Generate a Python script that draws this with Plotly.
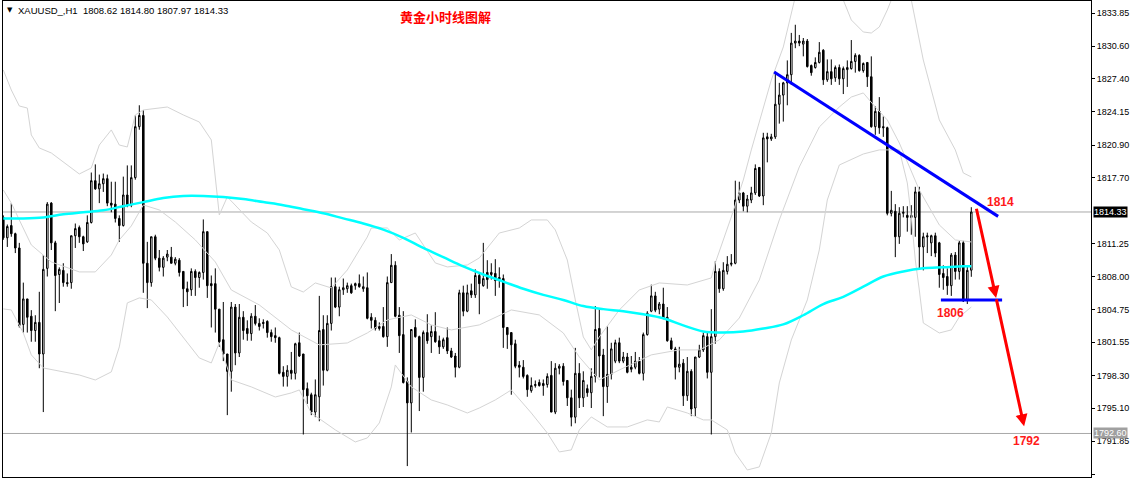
import plotly.graph_objects as go

# ---------------- data (prices) ----------------
opens = [1813.8, 1811.8, 1813.0, 1812.2, 1810.8, 1803.3, 1805.8, 1804.1, 1802.7, 1803.5,
         1800.4, 1808.8, 1815.2, 1811.3, 1808.2, 1808.6, 1807.4, 1807.4, 1812.0, 1812.8,
         1811.9, 1811.4, 1813.3, 1817.4, 1816.6, 1817.1, 1817.6, 1815.2, 1815.1, 1813.7,
         1813.0, 1816.0, 1815.0, 1817.7, 1822.7, 1823.8, 1809.3, 1807.4, 1811.9, 1809.8,
         1808.9, 1809.9, 1809.9, 1809.3, 1809.6, 1808.5, 1806.8, 1806.7, 1808.5, 1807.9,
         1808.4, 1812.4, 1807.3, 1807.3, 1804.8, 1801.8, 1800.4, 1798.7, 1805.0, 1800.5,
         1804.0, 1802.9, 1802.4, 1804.1, 1803.4, 1803.5, 1803.6, 1802.5, 1802.2, 1802.0,
         1798.6, 1798.2, 1798.8, 1798.5, 1801.5, 1800.4, 1797.0, 1796.4, 1794.7, 1796.2,
         1802.8, 1798.8, 1803.4, 1807.0, 1805.0, 1806.7, 1806.8, 1807.1, 1807.1, 1807.3,
         1806.8, 1806.9, 1804.0, 1803.7, 1802.9, 1803.1, 1802.1, 1807.4, 1809.1, 1804.2,
         1802.3, 1797.7, 1795.6, 1803.0, 1802.1, 1798.1, 1802.5, 1802.1, 1802.6, 1801.7,
         1801.1, 1802.0, 1800.7, 1800.2, 1799.1, 1806.4, 1804.6, 1806.6, 1806.2, 1808.1,
         1807.1, 1808.4, 1808.2, 1808.3, 1807.9, 1807.8, 1803.0, 1802.5, 1801.4, 1799.3,
         1799.1, 1798.3, 1796.8, 1797.3, 1797.6, 1797.5, 1797.4, 1798.3, 1794.7, 1799.0,
         1799.2, 1797.8, 1796.1, 1794.2, 1798.5, 1796.1, 1797.0, 1796.6, 1798.2, 1802.9,
         1800.3, 1797.2, 1798.4, 1799.7, 1801.5, 1799.7, 1800.1, 1799.1, 1799.1, 1799.7,
         1798.5, 1802.3, 1804.6, 1806.1, 1804.8, 1805.3, 1804.0, 1801.7, 1800.9, 1799.1,
         1799.5, 1796.3, 1798.7, 1795.1, 1800.1, 1800.8, 1802.1, 1798.6, 1802.1, 1808.5,
         1806.8, 1808.5, 1809.2, 1809.3, 1815.5, 1816.2, 1814.9, 1815.5, 1816.2, 1818.7,
         1815.9, 1821.7, 1821.5, 1821.7, 1824.9, 1825.8, 1827.0, 1827.8, 1830.9, 1831.1,
         1830.8, 1831.1, 1828.7, 1828.5, 1829.0, 1830.2, 1827.3, 1828.1, 1827.5, 1828.5,
         1827.4, 1828.3, 1828.4, 1829.1, 1829.7, 1828.2, 1829.0, 1827.6, 1822.7, 1824.2,
         1822.7, 1822.6, 1814.2, 1814.4, 1811.9, 1814.2, 1814.0, 1814.0, 1813.8, 1816.3,
         1810.9, 1812.0, 1811.3, 1812.0, 1811.3, 1808.3, 1808.0, 1807.1, 1810.1, 1808.5,
         1811.3, 1805.7, 1808.62]

highs = [1814.0, 1813.1, 1815.2, 1812.3, 1811.3, 1807.4, 1805.8, 1804.7, 1804.2, 1806.5,
         1810.1, 1815.3, 1815.3, 1811.5, 1808.9, 1809.3, 1808.3, 1812.0, 1813.2, 1813.0,
         1812.0, 1814.0, 1818.2, 1819.0, 1818.0, 1818.1, 1818.0, 1817.3, 1817.3, 1814.0,
         1817.8, 1818.9, 1818.9, 1823.8, 1824.8, 1824.3, 1811.4, 1811.9, 1812.1, 1810.6,
         1810.0, 1810.6, 1810.9, 1809.9, 1809.8, 1808.5, 1807.5, 1808.8, 1808.7, 1808.5,
         1813.6, 1812.4, 1808.1, 1808.8, 1804.8, 1805.5, 1800.4, 1805.5, 1805.3, 1805.3,
         1804.6, 1803.7, 1804.4, 1805.2, 1803.9, 1803.8, 1803.7, 1802.8, 1803.0, 1802.1,
         1799.2, 1799.3, 1800.6, 1801.5, 1802.5, 1800.4, 1797.6, 1796.6, 1797.9, 1806.1,
         1804.2, 1804.2, 1807.9, 1807.9, 1807.0, 1807.8, 1807.4, 1807.3, 1807.4, 1808.2,
         1808.0, 1808.4, 1804.4, 1804.0, 1803.5, 1805.0, 1808.0, 1810.2, 1809.5, 1805.0,
         1804.6, 1798.1, 1802.8, 1803.8, 1802.2, 1802.7, 1804.3, 1803.2, 1804.5, 1802.2,
         1802.0, 1803.0, 1801.0, 1800.5, 1806.7, 1807.1, 1807.2, 1807.3, 1808.7, 1808.3,
         1811.3, 1809.6, 1809.3, 1809.7, 1808.9, 1808.2, 1803.0, 1802.5, 1801.8, 1799.7,
         1799.8, 1798.4, 1798.1, 1797.8, 1797.9, 1797.9, 1798.5, 1799.7, 1799.5, 1799.4,
         1799.5, 1797.8, 1796.9, 1801.0, 1799.5, 1798.7, 1797.4, 1799.0, 1805.1, 1804.8,
         1800.9, 1803.1, 1801.5, 1801.8, 1802.0, 1800.6, 1800.5, 1800.2, 1800.6, 1800.1,
         1802.5, 1804.6, 1807.2, 1806.5, 1805.5, 1806.9, 1805.0, 1802.0, 1801.1, 1801.1,
         1799.9, 1800.1, 1798.9, 1800.1, 1801.3, 1802.5, 1802.5, 1804.8, 1809.5, 1808.8,
         1809.4, 1810.0, 1810.2, 1817.4, 1817.3, 1816.3, 1816.0, 1816.8, 1819.0, 1818.7,
         1822.1, 1822.1, 1822.0, 1828.1, 1827.0, 1827.1, 1829.2, 1831.9, 1832.7, 1831.7,
         1831.4, 1831.3, 1828.8, 1829.5, 1831.0, 1830.3, 1829.3, 1829.3, 1828.7, 1828.8,
         1828.6, 1829.2, 1831.2, 1829.9, 1829.8, 1829.0, 1829.0, 1829.6, 1824.7, 1825.6,
         1823.7, 1822.7, 1816.4, 1815.1, 1814.8, 1814.9, 1814.9, 1815.0, 1816.8, 1816.8,
         1812.3, 1812.3, 1812.1, 1812.3, 1811.4, 1809.1, 1808.8, 1810.3, 1810.4, 1811.5,
         1811.5, 1809.0, 1814.80]

lows = [1811.6, 1810.9, 1811.9, 1810.3, 1803.0, 1802.5, 1802.5, 1801.6, 1801.6, 1799.0,
        1794.7, 1808.0, 1810.6, 1804.6, 1805.4, 1807.0, 1807.0, 1806.8, 1810.8, 1811.3,
        1810.5, 1811.3, 1813.2, 1816.5, 1815.2, 1816.3, 1814.9, 1814.3, 1813.3, 1811.4,
        1812.9, 1814.8, 1814.8, 1817.5, 1822.4, 1806.4, 1804.9, 1807.0, 1809.6, 1808.5,
        1808.0, 1809.5, 1809.3, 1809.1, 1808.0, 1805.0, 1805.1, 1806.1, 1806.1, 1806.9,
        1807.7, 1805.9, 1803.0, 1802.5, 1801.1, 1799.7, 1794.4, 1796.7, 1799.3, 1800.1,
        1801.8, 1801.7, 1801.7, 1803.2, 1802.7, 1802.9, 1802.0, 1801.6, 1801.5, 1798.4,
        1797.2, 1797.2, 1797.9, 1797.9, 1800.1, 1792.5, 1795.5, 1794.4, 1794.2, 1793.8,
        1797.3, 1798.7, 1802.7, 1804.9, 1804.1, 1806.2, 1806.4, 1806.3, 1806.7, 1806.9,
        1806.5, 1803.8, 1802.9, 1802.7, 1802.7, 1802.0, 1801.1, 1807.4, 1804.0, 1800.5,
        1797.5, 1789.4, 1792.7, 1802.0, 1794.8, 1796.7, 1801.4, 1800.5, 1801.5, 1800.4,
        1800.9, 1800.4, 1800.0, 1798.1, 1799.0, 1804.1, 1804.5, 1805.9, 1805.9, 1804.3,
        1807.0, 1806.8, 1807.7, 1806.1, 1806.9, 1801.0, 1800.9, 1796.4, 1799.0, 1798.1,
        1798.0, 1796.2, 1796.6, 1797.1, 1797.2, 1796.3, 1797.1, 1794.7, 1794.5, 1798.4,
        1797.3, 1795.3, 1793.3, 1793.6, 1795.1, 1795.2, 1796.2, 1795.1, 1797.6, 1798.1,
        1794.3, 1795.6, 1797.9, 1799.5, 1799.5, 1799.5, 1798.5, 1798.6, 1798.9, 1798.4,
        1797.8, 1802.2, 1804.5, 1804.5, 1804.3, 1803.8, 1801.6, 1800.8, 1797.9, 1798.6,
        1795.3, 1795.8, 1794.3, 1794.3, 1800.0, 1800.6, 1798.0, 1792.5, 1801.4, 1806.4,
        1806.6, 1808.2, 1809.0, 1809.2, 1815.2, 1814.4, 1814.3, 1815.2, 1816.0, 1815.8,
        1815.0, 1819.2, 1821.3, 1821.5, 1823.0, 1823.2, 1824.8, 1826.8, 1830.4, 1830.6,
        1829.6, 1828.5, 1827.7, 1828.4, 1828.9, 1826.8, 1827.1, 1826.8, 1827.1, 1826.8,
        1825.9, 1826.6, 1828.3, 1828.0, 1828.1, 1828.0, 1826.6, 1822.6, 1821.9, 1822.0,
        1821.7, 1814.0, 1813.9, 1809.9, 1811.2, 1813.8, 1812.4, 1812.1, 1811.9, 1808.7,
        1808.6, 1810.3, 1810.0, 1809.9, 1806.9, 1806.7, 1806.2, 1806.1, 1807.7, 1807.7,
        1805.5, 1805.3, 1807.97]

closes = [1811.8, 1812.9, 1812.2, 1810.8, 1803.2, 1805.8, 1804.0, 1802.7, 1803.5, 1800.4,
          1808.7, 1815.1, 1811.3, 1808.1, 1808.7, 1807.4, 1807.3, 1812.0, 1812.7, 1811.9,
          1811.2, 1813.3, 1817.4, 1816.6, 1817.1, 1817.6, 1815.2, 1815.0, 1813.7, 1813.0,
          1816.0, 1815.0, 1817.7, 1822.7, 1823.8, 1809.3, 1807.4, 1811.9, 1809.8, 1808.9,
          1809.8, 1810.2, 1809.3, 1809.7, 1808.4, 1806.8, 1806.5, 1808.5, 1807.9, 1808.4,
          1812.4, 1807.1, 1807.1, 1804.8, 1801.6, 1800.4, 1798.7, 1805.0, 1800.5, 1804.0,
          1802.7, 1802.4, 1804.1, 1803.4, 1803.1, 1803.4, 1802.5, 1802.1, 1802.0, 1798.5,
          1798.2, 1798.8, 1798.5, 1801.4, 1800.2, 1796.9, 1796.3, 1794.7, 1796.4, 1802.7,
          1798.8, 1803.4, 1807.0, 1805.0, 1806.7, 1806.9, 1807.1, 1806.4, 1807.3, 1807.0,
          1807.0, 1803.9, 1803.7, 1802.9, 1803.1, 1802.1, 1807.4, 1809.1, 1804.1, 1802.2,
          1797.6, 1795.6, 1802.8, 1802.1, 1798.1, 1802.5, 1801.7, 1802.6, 1801.6, 1801.1,
          1801.8, 1800.7, 1800.1, 1799.1, 1806.4, 1804.6, 1806.4, 1806.2, 1808.1, 1807.3,
          1807.8, 1807.7, 1808.4, 1807.6, 1807.7, 1803.0, 1802.3, 1801.3, 1799.2, 1799.1,
          1798.2, 1796.9, 1797.3, 1797.4, 1797.3, 1797.3, 1798.2, 1794.7, 1799.0, 1799.2,
          1797.7, 1796.1, 1794.2, 1798.5, 1796.1, 1797.8, 1796.6, 1798.2, 1802.8, 1800.2,
          1797.2, 1798.4, 1800.9, 1801.5, 1799.7, 1800.1, 1798.6, 1798.9, 1799.7, 1798.5,
          1802.3, 1804.4, 1806.1, 1804.7, 1805.3, 1803.9, 1801.7, 1800.9, 1799.1, 1799.4,
          1796.3, 1798.7, 1795.0, 1800.1, 1800.8, 1802.2, 1798.6, 1802.1, 1808.5, 1806.8,
          1808.6, 1809.2, 1809.3, 1815.5, 1816.2, 1814.9, 1815.6, 1816.2, 1818.6, 1815.9,
          1821.6, 1821.5, 1821.7, 1824.9, 1825.8, 1827.0, 1827.8, 1830.9, 1831.1, 1830.9,
          1831.1, 1828.6, 1828.0, 1829.0, 1830.0, 1827.3, 1828.1, 1827.4, 1828.5, 1827.4,
          1828.4, 1828.5, 1829.1, 1829.7, 1828.2, 1828.9, 1827.6, 1822.7, 1824.2, 1822.6,
          1822.6, 1814.2, 1814.5, 1811.9, 1814.2, 1814.3, 1813.8, 1813.8, 1816.3, 1810.9,
          1811.9, 1811.9, 1812.0, 1810.3, 1808.2, 1807.9, 1807.1, 1810.1, 1808.5, 1811.3,
          1805.6, 1808.6, 1814.33]

bars = list(range(len(opens)))

# cyan moving average, sampled at bar numbers
ma_bars = [0, 5, 10, 15, 20, 25, 30, 35, 40, 45, 50, 55, 60, 65, 70, 75, 80, 85, 90, 95,
           100, 105, 110, 115, 120, 125, 130, 135, 140, 145, 150, 155, 160, 165, 170, 175,
           180, 185, 190, 195, 200, 205, 210, 215, 220, 225, 230, 235, 240, 242]
ma_vals = [1813.7, 1813.7, 1813.8, 1814.1, 1814.3, 1814.5, 1814.9, 1815.3, 1815.7, 1815.9,
           1815.9, 1815.8, 1815.6, 1815.3, 1815.0, 1814.6, 1814.2, 1813.7, 1813.2, 1812.6,
           1811.8, 1810.8, 1809.9, 1809.0, 1808.2, 1807.5, 1806.8, 1806.2, 1805.7, 1805.1,
           1804.8, 1804.6, 1804.3, 1803.9, 1803.2, 1802.6, 1802.5, 1802.6, 1802.9, 1803.3,
           1804.2, 1805.3, 1806.0, 1807.0, 1808.0, 1808.5, 1808.8, 1808.9, 1809.0, 1809.0]

# Bollinger bands (grey), sampled at bar numbers
bb_up_bars = [0, 2, 4, 6, 7, 9, 12, 16, 19, 22, 24, 27, 29, 31, 33, 35, 41, 45, 49, 52,
              53, 54, 56, 59, 62, 66, 69, 72, 75, 78, 82, 86, 91, 92, 96, 99, 103, 108, 111, 116,
              119, 124, 129, 132, 136, 138, 141, 143, 145, 147, 149, 154, 159, 164, 171, 177, 178, 182, 185, 187,
              190, 192, 195, 197, 199, 204, 209, 212, 215, 217, 219, 221, 223, 227, 230, 234, 238, 240, 242]
bb_up = [1828.26, 1826.30, 1824.73, 1824.53, 1821.89, 1820.61, 1820.12, 1818.94, 1818.06, 1818.65,
         1820.90, 1822.38, 1820.90, 1820.71, 1823.85, 1824.34, 1824.63, 1823.85, 1823.16, 1821.40,
         1817.67, 1814.04, 1815.81, 1814.53, 1813.35, 1812.27, 1810.61, 1806.98, 1806.48, 1807.37,
         1806.88, 1808.64, 1811.88, 1812.76, 1812.76, 1811.59, 1812.27, 1809.33, 1808.94, 1809.13,
         1809.82, 1812.27, 1812.76, 1813.55, 1813.55, 1812.57, 1809.62, 1805.70, 1802.07, 1800.80,
         1802.07, 1804.72, 1806.68, 1807.37, 1807.17, 1807.86, 1809.33, 1813.84, 1817.47, 1820.42,
         1824.63, 1827.28, 1830.52, 1833.85, 1837.09, 1839.05, 1836.11, 1833.17, 1831.99, 1831.89,
         1832.48, 1834.15, 1836.11, 1835.13, 1829.24, 1823.36, 1820.42, 1818.16, 1817.77]

bb_mid_bars = [0, 2, 4, 7, 12, 19, 23, 27, 29, 32, 35, 39, 43, 48, 53, 57, 64, 72, 79, 86,
               91, 96, 102, 107, 112, 119, 127, 134, 140, 144, 149, 154, 162, 169, 174, 179, 184, 189, 194, 199,
               204, 209, 212, 215, 218, 221, 224, 229, 234, 238, 242]
bb_mid = [1816.49, 1815.21, 1813.55, 1811.10, 1809.43, 1808.45, 1808.45, 1810.11, 1811.59, 1812.96,
          1815.02, 1814.53, 1813.35, 1811.59, 1809.43, 1806.68, 1805.21, 1802.76, 1801.29, 1801.48,
          1802.46, 1803.74, 1804.23, 1803.25, 1802.76, 1803.25, 1804.72, 1804.23, 1802.46, 1800.11,
          1797.85, 1798.83, 1800.31, 1800.80, 1800.80, 1801.78, 1803.93, 1807.66, 1813.55, 1818.75,
          1822.67, 1824.63, 1825.61, 1826.01, 1824.63, 1823.36, 1821.10, 1816.49, 1813.06, 1811.59,
          1811.39]

bb_low_bars = [0, 2, 5, 7, 10, 16, 19, 23, 27, 29, 31, 34, 37, 41, 46, 49, 52, 54, 57, 62,
               68, 72, 74, 77, 83, 88, 91, 94, 97, 98, 102, 107, 111, 116, 119, 123, 127, 132, 136, 139,
               142, 144, 147, 151, 156, 161, 164, 166, 171, 175, 177, 181, 183, 186, 189, 192, 194, 197, 201, 204,
               206, 209, 215, 219, 224, 226, 227, 228, 229, 230, 234, 237, 239, 242]
bb_low = [1804.82, 1804.72, 1802.46, 1800.31, 1799.03, 1798.54, 1798.34, 1797.85, 1798.64, 1801.09,
          1805.41, 1805.90, 1805.70, 1804.03, 1801.58, 1800.01, 1799.52, 1801.48, 1797.85, 1797.17,
          1796.18, 1796.58, 1796.87, 1794.61, 1792.95, 1791.77, 1792.16, 1793.63, 1797.17, 1799.32,
          1797.17, 1795.89, 1795.40, 1794.61, 1795.10, 1795.89, 1796.87, 1794.61, 1792.65, 1790.79,
          1790.99, 1792.95, 1794.22, 1793.24, 1793.24, 1793.93, 1793.73, 1795.20, 1794.61, 1793.93,
          1793.93, 1792.95, 1790.69, 1789.02, 1789.32, 1792.65, 1797.56, 1801.78, 1805.70, 1810.61,
          1815.51, 1818.94, 1820.02, 1820.42, 1820.42, 1817.18, 1813.84, 1809.62, 1806.68, 1803.44,
          1802.46, 1802.76, 1804.03, 1805.01]

# horizontal price lines and axis labels
price_lines = [1814.33, 1792.60]
tick_vals = [1788.60, 1791.85, 1795.10, 1798.30, 1801.55, 1804.75, 1808.00,
             1811.25, 1817.70, 1820.90, 1824.15, 1827.40, 1830.60, 1833.85]

# hand-drawn analysis (bar number, price)
trend_bars, trend_vals = [192.7, 248.7], [1828.07, 1813.9]
support_bars, support_vals = [234.4, 249.7], [1805.7, 1805.7]
path_bars, path_vals = [243.2, 248.2, 255.2], [1814.8, 1805.9, 1793.3]
level_texts = ["1814", "1806", "1792"]
level_bars = [249.2, 236.7, 255.9]
level_vals = [1815.3, 1804.4, 1791.9]

header = "XAUUSD_,H1\u00a0\u00a01808.62 1814.80 1807.97 1814.33"
title_cn = "黄金小时线图解"

# ---------------- figure ----------------
W, H = 1135, 479
ML, MR, MT, MB = 3, 44, 1, 2
PW, PH = W - ML - MR, H - MT - MB
FONT = "Liberation Sans, Arial, sans-serif"


def px_x(px):
    return (px - ML) / PW


def px_y(py):
    return (H - MB - py) / PH


fig = go.Figure()

band_style = dict(color="#d4d4d4", width=1)
fig.add_trace(go.Scatter(x=bb_up_bars, y=bb_up, mode="lines", line=band_style,
                         hoverinfo="skip", showlegend=False))
fig.add_trace(go.Scatter(x=bb_mid_bars, y=bb_mid, mode="lines", line=band_style,
                         hoverinfo="skip", showlegend=False))
fig.add_trace(go.Scatter(x=bb_low_bars, y=bb_low, mode="lines", line=band_style,
                         hoverinfo="skip", showlegend=False))

fig.add_trace(go.Candlestick(
    x=bars, open=opens, high=highs, low=lows, close=closes,
    increasing=dict(line=dict(color="black", width=1), fillcolor="white"),
    decreasing=dict(line=dict(color="black", width=1), fillcolor="black"),
    whiskerwidth=0, hoverinfo="skip", showlegend=False))

fig.add_trace(go.Scatter(x=ma_bars, y=ma_vals, mode="lines", line_shape="spline",
                         line=dict(color="#00ffff", width=2.5),
                         hoverinfo="skip", showlegend=False))

fig.add_trace(go.Scatter(x=trend_bars, y=trend_vals, mode="lines",
                         line=dict(color="#0000ff", width=3), hoverinfo="skip", showlegend=False))
fig.add_trace(go.Scatter(x=support_bars, y=support_vals, mode="lines",
                         line=dict(color="#0000ff", width=3), hoverinfo="skip", showlegend=False))

shapes = []
for p in price_lines:
    shapes.append(dict(type="line", xref="paper", x0=0, x1=1, yref="y", y0=p, y1=p,
                       line=dict(color="#a8a8a8", width=1), layer="below"))

annotations = []
# red arrows
for k in range(len(path_bars) - 1):
    annotations.append(dict(x=path_bars[k + 1], y=path_vals[k + 1], xref="x", yref="y",
                            ax=path_bars[k], ay=path_vals[k], axref="x", ayref="y",
                            text="", showarrow=True, arrowhead=2, arrowsize=0.8,
                            arrowwidth=3, arrowcolor="#ff0000", standoff=0, startstandoff=0))
for t, b, v in zip(level_texts, level_bars, level_vals):
    annotations.append(dict(x=b, y=v, xref="x", yref="y", text="<b>%s</b>" % t,
                            showarrow=False, font=dict(family=FONT, size=12, color="#ff1a1a")))

annotations.append(dict(x=px_x(10), y=px_y(10), xref="paper", yref="paper", text="▼",
                        showarrow=False, xanchor="center", yanchor="middle",
                        font=dict(family="DejaVu Sans", size=7, color="black")))
annotations.append(dict(x=px_x(16), y=px_y(10), xref="paper", yref="paper", text=header,
                        showarrow=False, xanchor="left", yanchor="middle",
                        font=dict(family=FONT, size=9.5, color="black")))
annotations.append(dict(x=px_x(445), y=px_y(17), xref="paper", yref="paper",
                        text="<b>%s</b>" % title_cn, showarrow=False,
                        xanchor="center", yanchor="middle",
                        font=dict(family="Noto Sans CJK SC", size=13, color="#ff0000")))

box_colors = ["#000000", "#a0a0a0"]
for p, c in zip(price_lines, box_colors):
    annotations.append(dict(x=1, y=p, xref="paper", yref="y", text="%.2f" % p,
                            showarrow=False, xanchor="left", yanchor="middle", xshift=2,
                            bgcolor=c, borderpad=0,
                            font=dict(family=FONT, size=9, color="white")))

fig.update_layout(
    width=W, height=H,
    margin=dict(l=ML, r=MR, t=MT, b=MB, pad=0, autoexpand=False),
    paper_bgcolor="white", plot_bgcolor="white",
    showlegend=False, hovermode=False, boxgap=0.45,
    shapes=shapes, annotations=annotations,
    xaxis=dict(range=[-0.075, PW / 4 - 0.075], showgrid=False, zeroline=False,
               showticklabels=False, ticks="", showline=True, mirror=True,
               linecolor="black", linewidth=1, rangeslider=dict(visible=False),
               fixedrange=True, automargin=False),
    yaxis=dict(side="right", range=[1788.33, 1835.03], tickvals=tick_vals,
               ticktext=["%.2f" % v for v in tick_vals], ticks="outside", ticklen=3,
               tickcolor="black", showline=True, mirror=True, linecolor="black",
               linewidth=1, showgrid=False, zeroline=False, fixedrange=True,
               automargin=False,
               tickfont=dict(family=FONT, size=9, color="black")),
)

fig.write_html("out.html", config={"displayModeBar": False},
               post_script="document.body.style.margin='0px';"
                           "document.body.style.overflow='hidden';")
